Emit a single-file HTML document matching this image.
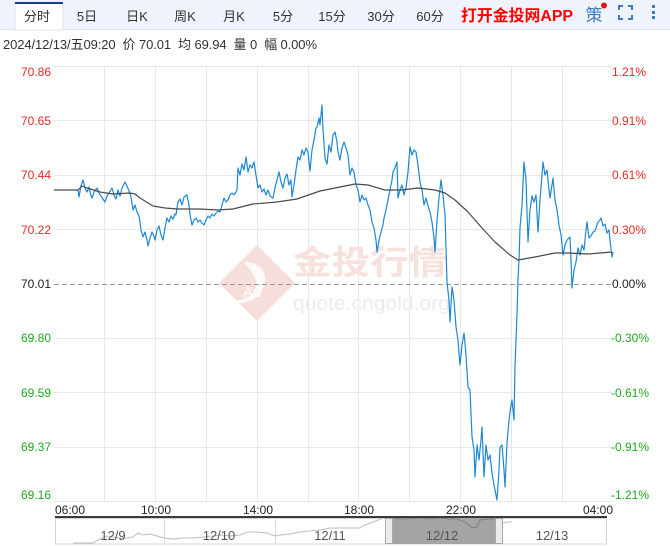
<!DOCTYPE html>
<html><head><meta charset="utf-8"><style>
html,body{margin:0;padding:0;background:#fff;}
body{width:670px;height:546px;overflow:hidden;}
svg{display:block;font-family:"Liberation Sans","Noto Sans CJK SC",sans-serif;}
</style></head><body>
<svg width="670" height="546" viewBox="0 0 670 546" xmlns="http://www.w3.org/2000/svg">
<!-- toolbar -->
<rect x="0" y="0" width="670" height="30" fill="#eff3fb"/>
<line x1="0" y1="29.5" x2="670" y2="29.5" stroke="#dde3ee" stroke-width="1"/>
<rect x="15" y="2" width="48" height="28" fill="#fff" stroke="#dde3ee" stroke-width="1"/>
<rect x="15" y="2" width="48" height="2" fill="#1c3d87"/>
<g font-size="13" fill="#333" text-anchor="middle">
<text x="37" y="21">分时</text>
<text x="87" y="21">5日</text>
<text x="137" y="21">日K</text>
<text x="185" y="21">周K</text>
<text x="234" y="21">月K</text>
<text x="283" y="21">5分</text>
<text x="332" y="21">15分</text>
<text x="381" y="21">30分</text>
<text x="430" y="21">60分</text>
</g>
<text x="461" y="21" font-size="16" font-weight="bold" fill="#ff0000" textLength="112" lengthAdjust="spacingAndGlyphs">打开金投网APP</text>
<text x="594" y="21" font-size="17" fill="#3d7cc9" text-anchor="middle">策</text>
<circle cx="604" cy="5.5" r="3" fill="#ee1111"/>
<g stroke="#3d7cc9" stroke-width="2" fill="none">
<path d="M619 10V6h4M628 6h4v4M632 15v4h-4M623 19h-4v-4"/>
</g>
<g fill="#3d7cc9">
<rect x="652" y="5" width="3" height="3"/>
<rect x="652" y="11" width="3" height="3"/>
<rect x="652" y="16" width="3" height="3"/>
</g>
<!-- info -->
<text x="3" y="49" font-size="13" fill="#333" textLength="314" lengthAdjust="spacing" xml:space="preserve">2024/12/13/五09:20  价 70.01  均 69.94  量 0  幅 0.00%</text>

<!-- grid -->
<g stroke="#e8e8e8" stroke-width="1">
<line x1="54" y1="66.5" x2="612" y2="66.5"/>
<line x1="54" y1="120.5" x2="612" y2="120.5"/>
<line x1="54" y1="175.5" x2="612" y2="175.5"/>
<line x1="54" y1="229.5" x2="612" y2="229.5"/>
<line x1="54" y1="338.5" x2="612" y2="338.5"/>
<line x1="54" y1="392.5" x2="612" y2="392.5"/>
<line x1="54" y1="447.5" x2="612" y2="447.5"/>
<line x1="54" y1="501.5" x2="612" y2="501.5"/>
<line x1="104.5" y1="66" x2="104.5" y2="501"/>
<line x1="155.5" y1="66" x2="155.5" y2="501"/>
<line x1="206.5" y1="66" x2="206.5" y2="501"/>
<line x1="257.5" y1="66" x2="257.5" y2="501"/>
<line x1="308.5" y1="66" x2="308.5" y2="501"/>
<line x1="358.5" y1="66" x2="358.5" y2="501"/>
<line x1="409.5" y1="66" x2="409.5" y2="501"/>
<line x1="460.5" y1="66" x2="460.5" y2="501"/>
<line x1="511.5" y1="66" x2="511.5" y2="501"/>
<line x1="562.5" y1="66" x2="562.5" y2="501"/>
</g>

<!-- watermark -->
<g>
<polygon points="257,245 295,283 257,321 219,283" fill="#f6dfda"/>
<path d="M245,262 C262,262 270,275 262,290 C256,302 240,306 232,300 C248,302 262,290 254,276 C250,268 246,266 245,262Z" fill="#fff" opacity="0.85"/>
<text x="252" y="297" font-size="15" fill="#fff" text-anchor="middle">Au</text>
<text x="293" y="274" font-size="33" fill="#f6e1dd" font-weight="bold" textLength="154" lengthAdjust="spacingAndGlyphs">金投行情</text>
<text x="293" y="310" font-size="20" fill="#ececec" textLength="157" lengthAdjust="spacingAndGlyphs">quote.cngold.org</text>
</g>

<!-- dashed zero line -->
<line x1="54" y1="284.5" x2="612" y2="284.5" stroke="#999" stroke-width="1" stroke-dasharray="5,3"/>

<!-- price line -->
<polyline fill="none" stroke="#1f87d4" stroke-width="1.2" stroke-linejoin="round" points="78,190 79,197 81,186 83,180 85,188 87,192 89,187 91,196 92,198 94,192 97,188 99,193 101,196 103,199 105,202 107,196 109,193 112,188 114,195 116,199 118,190 120,196 122,188 125,182 127,186 129,191 131,197 133,210 135,205 137,212 139,216 140,222 141,230 143,237 145,232 147,240 148,246 150,238 152,232 154,236 155,240 157,230 159,226 161,235 163,240 165,228 167,218 169,222 171,216 173,219 175,214 176,215 177,208 178,202 180,199 182,205 184,197 187,195 189,205 190,215 192,225 194,220 196,218 198,222 200,220 202,223 204,225 206,220 208,216 210,218 212,214 214,216 216,213 218,211 220,212 222,205 224,198 226,202 228,200 230,195 232,193 234,195 236,192 237,190 238,168 240,175 242,164 244,170 246,157 248,172 250,165 252,168 254,162 256,175 258,188 260,185 262,192 264,189 266,195 268,190 270,196 273,198 275,188 277,180 279,172 281,182 283,188 285,178 287,174 289,185 291,180 292,197 294,185 296,170 298,157 300,160 302,150 304,155 306,148 308,152 310,171 312,150 314,140 316,128 317,127 319,118 320,125 322,105 323,130 325,158 327,164 329,145 331,152 333,135 335,132 337,142 338,152 340,160 342,148 344,142 346,148 348,155 350,175 352,168 354,172 356,185 358,190 360,202 362,195 364,200 366,198 368,205 370,210 372,222 374,228 376,240 377,252 379,240 381,232 383,225 384,218 386,210 388,200 390,190 392,180 393,172 395,168 397,162 398,198 400,190 402,185 404,195 406,188 408,172 410,147 412,155 414,150 416,152 418,165 420,182 422,190 424,205 426,198 428,206 430,212 432,222 434,238 435,252 437,220 439,198 441,180 443,195 445,215 447,282 449,300 450,322 452,287 454,300 456,327 458,340 460,365 462,345 464,333 466,355 468,387 470,390 472,437 474,450 475,477 477,445 479,460 481,440 482,427 484,477 486,445 488,460 490,455 492,473 494,485 496,495 497,500 499,470 500,447 502,445 504,470 505,487 507,443 509,420 511,405 512,400 514,420 515,367 517,313 518,280 519,260 520,228 522,205 524,162 526,180 528,242 530,210 532,196 534,202 536,195 538,232 540,200 542,175 543,162 545,175 547,170 549,190 550,198 552,185 553,178 555,200 557,210 559,225 561,235 563,255 565,245 567,240 570,237 571,260 572,288 574,270 576,262 578,248 580,255 582,245 584,250 586,230 587,222 589,238 591,236 593,232 595,231 597,225 598,222 600,220 601,218 603,226 605,224 607,233 609,230 610,240 612,257 613,252"/>

<!-- average line -->
<polyline fill="none" stroke="#4a4a4a" stroke-width="1.2" stroke-linejoin="round" points="54,190 78,190 82,186 87,188 100,192 113,194 130,193 135,194 140,198 153,206 165,208 177,209 200,209 217,210 233,209 253,204 277,202 297,199 320,191 335,188 355,184 368,185 385,190 402,190 418,188 435,190 445,193 455,200 468,212 482,228 495,242 510,255 518,260 535,257 555,253 568,253 588,254 612,252"/>

<!-- y labels left -->
<g font-size="12" text-anchor="end">
<text x="51" y="76" fill="#e62828">70.86</text>
<text x="51" y="125" fill="#e62828">70.65</text>
<text x="51" y="179" fill="#e62828">70.44</text>
<text x="51" y="234" fill="#e62828">70.22</text>
<text x="51" y="288" fill="#222">70.01</text>
<text x="51" y="342" fill="#1fa81f">69.80</text>
<text x="51" y="397" fill="#1fa81f">69.59</text>
<text x="51" y="451" fill="#1fa81f">69.37</text>
<text x="51" y="499" fill="#1fa81f">69.16</text>
</g>
<!-- y labels right -->
<g font-size="12" text-anchor="start">
<text x="612" y="76" fill="#e62828">1.21%</text>
<text x="612" y="125" fill="#e62828">0.91%</text>
<text x="612" y="179" fill="#e62828">0.61%</text>
<text x="612" y="234" fill="#e62828">0.30%</text>
<text x="612" y="288" fill="#222">0.00%</text>
<text x="611" y="342" fill="#1fa81f">-0.30%</text>
<text x="611" y="397" fill="#1fa81f">-0.61%</text>
<text x="611" y="451" fill="#1fa81f">-0.91%</text>
<text x="611" y="499" fill="#1fa81f">-1.21%</text>
</g>

<!-- x labels -->
<g font-size="12" fill="#222">
<text x="55" y="514">06:00</text>
<text x="156" y="514" text-anchor="middle">10:00</text>
<text x="258" y="514" text-anchor="middle">14:00</text>
<text x="359" y="514" text-anchor="middle">18:00</text>
<text x="461" y="514" text-anchor="middle">22:00</text>
<text x="613" y="514" text-anchor="end">04:00</text>
</g>

<!-- navigator -->
<rect x="55.5" y="518.5" width="551" height="25.5" fill="#fff" stroke="#d4d4d4" stroke-width="1"/>
<line x1="164.5" y1="518" x2="164.5" y2="544" stroke="#ddd"/>
<line x1="275.5" y1="518" x2="275.5" y2="544" stroke="#ddd"/>
<rect x="392" y="518" width="104" height="26" fill="#a4a4a4"/>
<polyline fill="none" stroke="#bdbdbd" stroke-width="1" points="73,543 93,543 98,540 102,538 107,536 113,537 120,538 127,538 133,537 138,533 143,535 150,534 157,536 164,538 173,539 183,538 193,538 203,537 213,536 222,535 230,536 240,535 247,532 257,532 267,533 275,536 280,535 290,534 300,532 310,531 320,530 330,528 340,528 350,528 360,528 365,525 373,522 383,518 392,518"/>
<polyline fill="none" stroke="#808080" stroke-width="1" points="392,518 400,519 410,518.5 423,518 432,519 440,518 450,519 457,519 465,522 472,528 477,527 480,520 488,519 496,519"/>
<polyline fill="none" stroke="#bdbdbd" stroke-width="1" points="503,523 508,522 512,522"/>
<line x1="55" y1="517" x2="607" y2="517" stroke="#3a3a3a" stroke-width="2"/>
<rect x="385.5" y="518.5" width="7" height="25" fill="#ececec" stroke="#a8a8a8" stroke-width="1"/>
<rect x="495.5" y="518.5" width="7" height="25" fill="#ececec" stroke="#a8a8a8" stroke-width="1"/>
<g font-size="13" fill="#555" text-anchor="middle">
<text x="113" y="540">12/9</text>
<text x="219" y="540">12/10</text>
<text x="330" y="540">12/11</text>
<text x="442" y="540">12/12</text>
<text x="552" y="540">12/13</text>
</g>
</svg>
</body></html>
